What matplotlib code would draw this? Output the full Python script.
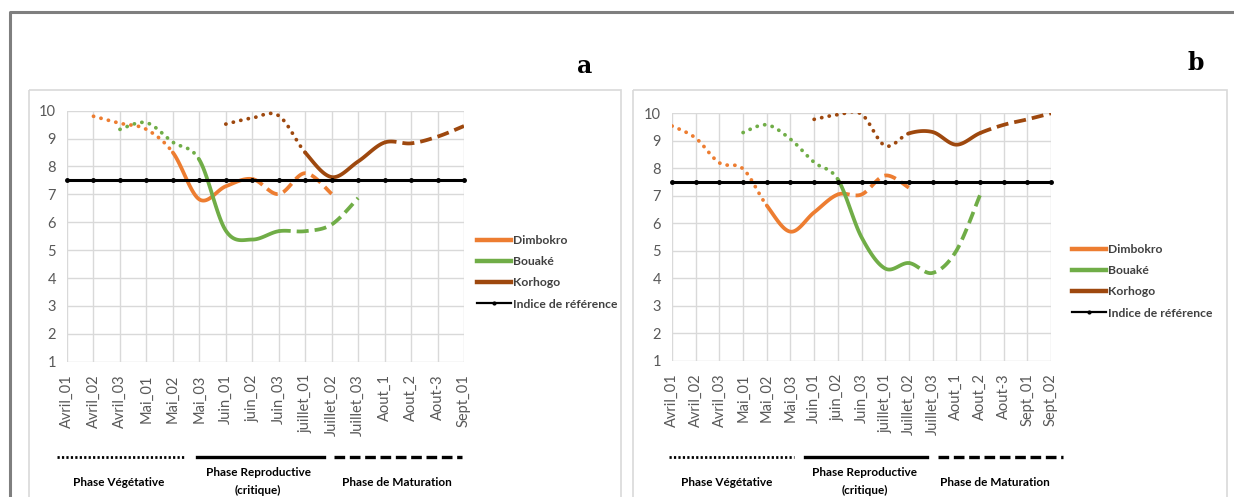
import numpy as np
import matplotlib
matplotlib.use("Agg")
import matplotlib.pyplot as plt
from matplotlib.lines import Line2D
from matplotlib.patches import Rectangle

plt.rcParams['font.family'] = ['Lato', 'DejaVu Sans']

# ---- data ----
cats_a = ['Avril_01', 'Avril_02', 'Avril_03', 'Mai_01', 'Mai_02', 'Mai_03', 'Juin_01',
          'juin_02', 'Juin_03', 'juillet_01', 'Juillet_02', 'Juillet_03', 'Aout_1',
          'Aout_2', 'Aout-3', 'Sept_01']
cats_b = cats_a + ['Sept_02']

n = None
dimbokro_a = [n, 9.8, 9.55, 9.33, 8.5, 6.82, 7.29, 7.55, 7.01, 7.76, 7.02, n, n, n, n, n]
bouake_a = [n, n, 9.33, 9.57, 8.87, 8.24, 5.7, 5.38, 5.68, 5.68, 5.92, 6.87, n, n, n, n]
korhogo_a = [n, n, n, n, n, n, 9.52, 9.74, 9.82, 8.5, 7.62, 8.18, 8.86, 8.83, 9.07, 9.45]

dimbokro_b = [9.54, 9.1, 8.2, 7.98, 6.65, 5.7, 6.4, 7.05, 7.05, 7.74, 7.3, n, n, n, n, n, n]
bouake_b = [n, n, n, 9.3, 9.58, 9.06, 8.22, 7.6, 5.5, 4.36, 4.56, 4.2, 5.0, 7.02, n, n, n]
korhogo_b = [n, n, n, n, n, n, 9.78, 9.95, 9.97, 8.82, 9.27, 9.32, 8.86, 9.28, 9.58, 9.78, 10.0]

ref_index = 7.5

# phase breaks (index where dotted -> solid, solid -> dashed)
breaks_a = {'Dimbokro': (4, 7), 'Bouaké': (5, 8), 'Korhogo': (9, 12)}
breaks_b = {'Dimbokro': (4, 7), 'Bouaké': (7, 10), 'Korhogo': (10, 13)}

colors = {'Dimbokro': '#ED7D31', 'Bouaké': '#70AD47', 'Korhogo': '#9E480E'}


def smooth(xs, ys, i0, i1, k=24):
    # bezier smoothing similar to spreadsheet "smoothed line"
    px, py = [], []
    last = len(xs) - 1
    for i in range(i0, i1):
        p0 = np.array([xs[max(i - 1, 0)], ys[max(i - 1, 0)]])
        p1 = np.array([xs[i], ys[i]])
        p2 = np.array([xs[i + 1], ys[i + 1]])
        p3 = np.array([xs[min(i + 2, last)], ys[min(i + 2, last)]])
        c1 = p1 + (p2 - p0) / 6
        c2 = p2 - (p3 - p1) / 6
        t = np.linspace(0, 1, k)[:, None]
        pts = ((1 - t) ** 3) * p1 + 3 * ((1 - t) ** 2) * t * c1 + 3 * (1 - t) * t ** 2 * c2 + t ** 3 * p2
        px.extend(pts[:, 0])
        py.extend(pts[:, 1])
    return px, py


def draw_series(ax, vals, name, brk):
    idx = [i for i, v in enumerate(vals) if v is not None]
    xs = np.array(idx, dtype=float)
    ys = np.array([vals[i] for i in idx])
    b1 = idx.index(brk[0])
    b2 = idx.index(brk[1])
    end = len(idx) - 1
    c = colors[name]
    x, y = smooth(xs, ys, 0, b1)
    ax.plot(x, y, color=c, lw=2.7, linestyle=(0, (0.05, 2.0)), dash_capstyle='round', zorder=3)
    x, y = smooth(xs, ys, b1, b2)
    ax.plot(x, y, color=c, lw=2.7, solid_capstyle='round', zorder=3)
    x, y = smooth(xs, ys, b2, end)
    ax.plot(x, y, color=c, lw=2.7, linestyle=(0, (3.2, 1.6)), zorder=3)


def setup(ax, cats):
    ax.set_xlim(0, len(cats) - 1)
    ax.set_ylim(1, 10)
    ax.set_xticks(range(len(cats)))
    ax.set_xticklabels(cats, rotation=90, fontsize=10.5, color='#595959')
    ax.set_yticks(range(1, 11))
    ax.tick_params(axis='y', labelsize=10.5, labelcolor='#595959', length=0, pad=8)
    ax.tick_params(axis='x', length=0, pad=9)
    ax.grid(True, color='#D9D9D9', lw=1)
    ax.set_axisbelow(True)
    for s in ax.spines.values():
        s.set_visible(False)
    ax.plot(range(len(cats)), [ref_index] * len(cats), color='black', lw=2.2,
            marker='o', markersize=2.5, zorder=4, clip_on=False)


fig = plt.figure(figsize=(12.34, 4.97), dpi=100)
W, H = 1234, 497


def px_axes(x0, y0, x1, y1):
    return fig.add_axes([x0 / W, 1 - y1 / H, (x1 - x0) / W, (y1 - y0) / H])


# background frame
bg = fig.add_axes([0, 0, 1, 1])
bg.set_xlim(0, W)
bg.set_ylim(H, 0)
bg.axis('off')
bg.plot([10, 10, W], [H, 12, 12], color='#7F7F7F', lw=2.2)
bg.add_patch(Rectangle((29, 90), 592, 420, fill=False, ec='#D9D9D9', lw=1.2))
bg.add_patch(Rectangle((633, 90), 594, 420, fill=False, ec='#D9D9D9', lw=1.2))

ax_a = px_axes(67, 110.7, 464, 361.7)
setup(ax_a, cats_a)
draw_series(ax_a, dimbokro_a, 'Dimbokro', breaks_a['Dimbokro'])
draw_series(ax_a, bouake_a, 'Bouaké', breaks_a['Bouaké'])
draw_series(ax_a, korhogo_a, 'Korhogo', breaks_a['Korhogo'])

ax_b = px_axes(672, 113.3, 1051, 361)
setup(ax_b, cats_b)
draw_series(ax_b, dimbokro_b, 'Dimbokro', breaks_b['Dimbokro'])
draw_series(ax_b, bouake_b, 'Bouaké', breaks_b['Bouaké'])
draw_series(ax_b, korhogo_b, 'Korhogo', breaks_b['Korhogo'])

handles = [Line2D([], [], color=colors['Dimbokro'], lw=3.2),
           Line2D([], [], color=colors['Bouaké'], lw=3.2),
           Line2D([], [], color=colors['Korhogo'], lw=3.2),
           Line2D([], [], color='black', lw=1.6, marker='o', markersize=2)]
labels = ['Dimbokro', 'Bouaké', 'Korhogo', 'Indice de référence']
for x0, y0 in [(466, 224), (1061, 233)]:
    fig.legend(handles, labels, loc='upper left', bbox_to_anchor=(x0 / W, 1 - y0 / H),
               frameon=False, prop={'weight': 'bold', 'size': 8.7},
               handlelength=2.8, handletextpad=0.15, labelspacing=0.85, labelcolor='#404040')

# panel letters
bg.text(585, 66, 'a', fontsize=17, fontweight='bold', family='DejaVu Serif', ha='center', va='center')
bg.text(1196, 63, 'b', fontsize=17, fontweight='bold', family='DejaVu Serif', ha='center', va='center')

# phase bars
phases = [((57, 185), (197, 324), (334, 462), (119, 258, 397)),
          ((669, 794), (805, 927), (938, 1063), (727, 865, 995))]
for veg, rep, mat, tx in phases:
    bg.plot(veg, [457, 457], color='black', lw=2, linestyle=(0, (0.8, 0.8)))
    bg.plot(rep, [457, 457], color='black', lw=2.4)
    bg.plot(mat, [457, 457], color='black', lw=2.4, linestyle=(0, (3.2, 1.4)))
    bg.text(tx[0], 482, 'Phase Végétative', fontsize=8.5, fontweight='bold', ha='center', va='center')
    bg.text(tx[1], 473, 'Phase Reproductive', fontsize=8.5, fontweight='bold', ha='center', va='center')
    bg.text(tx[1], 490, '(critique)', fontsize=8.5, fontweight='bold', ha='center', va='center')
    bg.text(tx[2], 482, 'Phase de Maturation', fontsize=8.5, fontweight='bold', ha='center', va='center')

fig.savefig('out.png', dpi=100)
